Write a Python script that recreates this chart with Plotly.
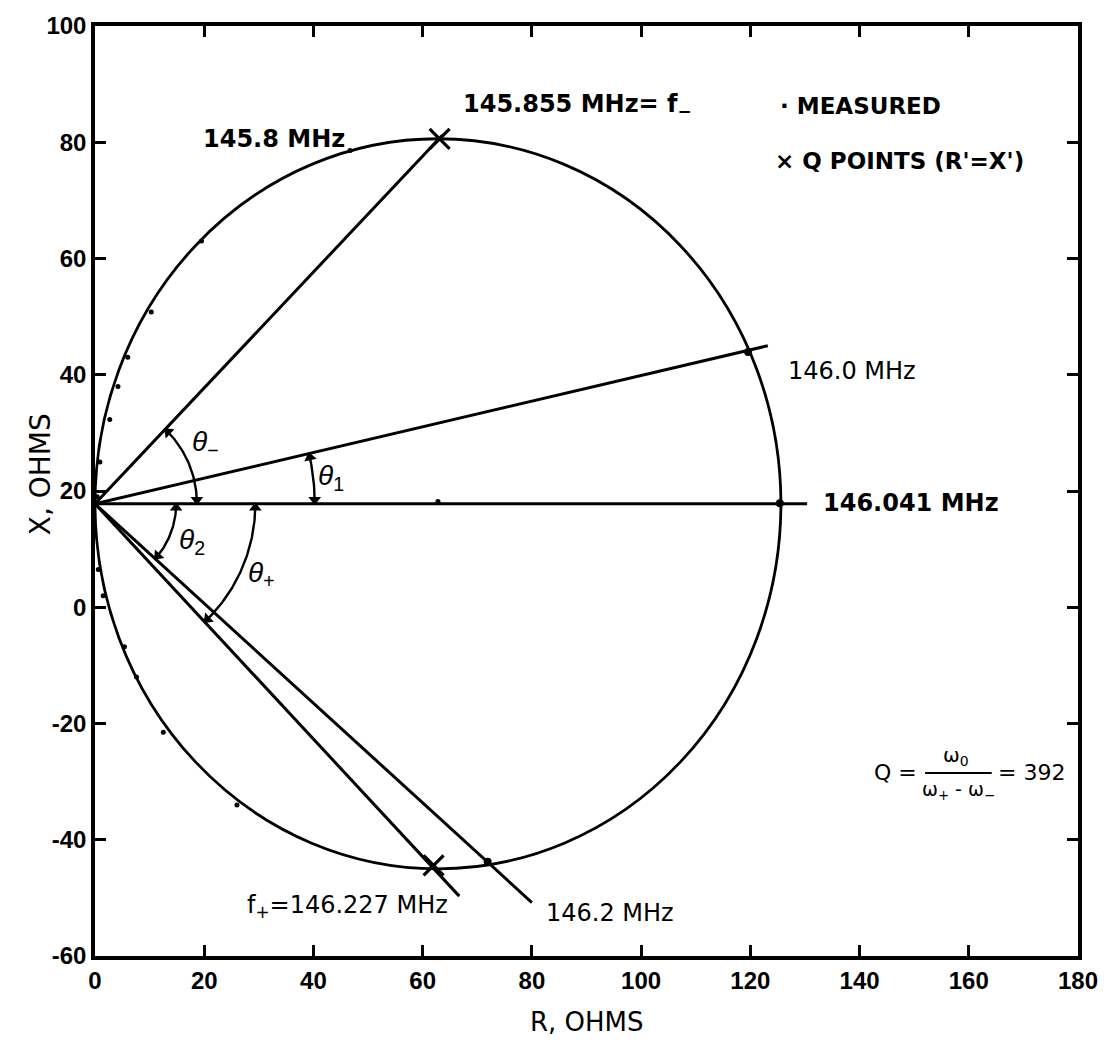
import numpy as np
import plotly.graph_objects as go

# ---- figure geometry -------------------------------------------------------
W, H = 1110, 1043
ML, MR, MT, MB = 95, 22, 25, 87
R_RANGE = [0, 180]
X_RANGE = [-60, 100]
SX = (W - ML - MR) / (R_RANGE[1] - R_RANGE[0])   # px per ohm (R)
SY = (H - MT - MB) / (X_RANGE[1] - X_RANGE[0])   # px per ohm (X)

TICK_FONT = "Liberation Sans, Arial, sans-serif"
TEXT_FONT = "DejaVu Sans, Verdana, sans-serif"

# ---- data -----------------------------------------------------------------
# tick marks and labels
r_ticks = [0, 20, 40, 60, 80, 100, 120, 140, 160, 180]
r_tick_labels = ["0", "20", "40", "60", "80", "100", "120", "140", "160", "180"]
x_ticks = [-60, -40, -20, 0, 20, 40, 60, 80, 100]
x_tick_labels = ["-60", "-40", "-20", "0", "20", "40", "60", "80", "100"]

# impedance circle (ohms)
circle_center_r = 62.8
circle_center_x = 17.8
circle_radius = 62.8

# common origin of the radial lines (detuned-short point)
origin_r = 0.0
origin_x = 17.8

# radial lines: frequency label and far end of each line
ray_names = ["145.855 MHz", "146.0 MHz", "146.041 MHz", "146.2 MHz", "146.227 MHz"]
ray_end_r = [63.6, 123.2, 130.4, 80.0, 66.7]
ray_end_x = [81.2, 45.0, 17.8, -50.8, -49.7]

# measured impedance points
measured_r = [46.7, 19.5, 10.3, 6.0, 4.2, 2.7, 0.9, 0.4, 0.6, 1.5, 5.4, 7.6, 12.5, 26.0, 62.8]
measured_x = [78.6, 63.0, 50.8, 43.0, 38.0, 32.3, 25.0, 19.0, 6.5, 2.0, -6.8, -12.0, -21.5, -34.0, 18.2]

# measured points where the labelled lines cross the circle
marked_r = [119.6, 125.4, 71.9]
marked_x = [43.9, 17.9, -43.8]

# half-power (Q) points, R' = X'
q_r = [63.1, 62.0]
q_x = [80.6, -44.4]

# angle arcs: label, index of the ray it ends on, radius in px
arc_labels = ["<i>θ</i><sub>−</sub>", "<i>θ</i><sub>1</sub>", "<i>θ</i><sub>2</sub>", "<i>θ</i><sub>+</sub>"]
arc_ray = [0, 1, 3, 4]
arc_radius_px = [103, 222, 82, 162]
arc_label_r = [20.3, 43.3, 17.8, 30.5]
arc_label_x = [28.2, 22.3, 11.3, 5.6]

fig = go.Figure()

# circle
fig.add_shape(type="circle", xref="x", yref="y",
              x0=circle_center_r - circle_radius, x1=circle_center_r + circle_radius,
              y0=circle_center_x - circle_radius, y1=circle_center_x + circle_radius,
              line=dict(color="black", width=2.8), layer="above")

# radial lines
for er, ex in zip(ray_end_r, ray_end_x):
    fig.add_trace(go.Scatter(x=[origin_r, er], y=[origin_x, ex], mode="lines",
                             line=dict(color="black", width=3), showlegend=False,
                             hoverinfo="skip"))

# angle arcs with arrowheads at both ends
for idx, rpx in zip(arc_ray, arc_radius_px):
    dx = (ray_end_r[idx] - origin_r) * SX
    dy = (ray_end_x[idx] - origin_x) * SY
    a_end = np.arctan2(dy, dx)
    a = np.linspace(0, a_end, 60)
    ar = origin_r + rpx * np.cos(a) / SX
    ax_ = origin_x + rpx * np.sin(a) / SY
    fig.add_trace(go.Scatter(x=ar, y=ax_, mode="lines",
                             line=dict(color="black", width=2.4),
                             showlegend=False, hoverinfo="skip"))
    s = np.sign(a_end)
    # direction of travel at each end (screen, y up) -> clockwise angle from up
    d_end = (-s * np.sin(a_end), s * np.cos(a_end))
    d_start = (0.0, -s)
    ang_end = np.degrees(np.arctan2(d_end[0], d_end[1]))
    ang_start = np.degrees(np.arctan2(d_start[0], d_start[1]))
    # pull the arrowheads back a little so the tips touch the lines
    back = 4.0
    a_tip_end = a_end - s * back / rpx
    a_tip_start = s * back / rpx
    tip_r = [origin_r + rpx * np.cos(a_tip_end) / SX, origin_r + rpx * np.cos(a_tip_start) / SX]
    tip_x = [origin_x + rpx * np.sin(a_tip_end) / SY, origin_x + rpx * np.sin(a_tip_start) / SY]
    fig.add_trace(go.Scatter(x=tip_r, y=tip_x, mode="markers",
                             marker=dict(symbol="triangle-up", size=11, color="black",
                                         angle=[ang_end, ang_start]),
                             showlegend=False, hoverinfo="skip"))

# measured points
fig.add_trace(go.Scatter(x=measured_r, y=measured_x, mode="markers",
                         marker=dict(color="black", size=5), showlegend=False))
fig.add_trace(go.Scatter(x=marked_r, y=marked_x, mode="markers",
                         marker=dict(color="black", size=8), showlegend=False))

# Q points
fig.add_trace(go.Scatter(x=q_r, y=q_x, mode="markers",
                         marker=dict(symbol="x-thin", size=20,
                                     line=dict(color="black", width=3.2)),
                         showlegend=False))

# ---- text -----------------------------------------------------------------
def label(x, y, text, size=24, bold=False, anchor="left", family=TEXT_FONT):
    if bold:
        text = "<b>" + text + "</b>"
    fig.add_annotation(x=x, y=y, xref="x", yref="y", text=text, showarrow=False,
                       xanchor=anchor, yanchor="middle",
                       font=dict(family=family, size=size, color="black"))

label(67.1, 86.3, ray_names[0] + "= f<sub>−</sub>", bold=True)
label(19.4, 80.6, "145.8 MHz", bold=True)
label(126.5, 40.7, ray_names[1])
label(132.9, 18.0, ray_names[2], bold=True)
label(82.3, -52.6, ray_names[3])
label(65.0, -51.4, "f<sub>+</sub>=" + ray_names[4], anchor="right")

label(125.0, 86.3, "· MEASURED", size=23, bold=True)
label(124.2, 76.8, "× Q POINTS (R'=X')", size=23, bold=True)

for t, xr, xx in zip(arc_labels, arc_label_r, arc_label_x):
    label(xr, xx, t, size=28, anchor="center", family=TICK_FONT)

# Q = w0 / (w+ - w-) = 392
label(142.3, -28.4, "Q =", size=22)
label(157.6, -25.6, "ω<sub>0</sub>", size=20, anchor="center")
label(158.1, -31.6, "ω<sub>+</sub> - ω<sub>−</sub>", size=19, anchor="center")
fig.add_shape(type="line", xref="x", yref="y", x0=152.0, x1=164.2, y0=-28.5, y1=-28.5,
              line=dict(color="black", width=2))
label(165.0, -28.4, "= 392", size=22)

# axis titles
fig.add_annotation(x=0.5, y=-0.071, xref="paper", yref="paper", text="R, OHMS",
                   showarrow=False, xanchor="center", yanchor="middle",
                   font=dict(family=TEXT_FONT, size=26, color="black"))
fig.add_annotation(x=-0.056, y=0.518, xref="paper", yref="paper", text="X, OHMS",
                   showarrow=False, textangle=-90, xanchor="center", yanchor="middle",
                   font=dict(family=TEXT_FONT, size=28, color="black"))

axis_common = dict(showgrid=False, zeroline=False, showline=True, linecolor="black",
                   linewidth=3.5, mirror="ticks", ticks="inside", ticklen=11,
                   tickwidth=2.5, tickcolor="black",
                   tickfont=dict(family=TICK_FONT, size=24, color="black", weight="bold"))

fig.update_xaxes(range=R_RANGE, tickvals=r_ticks, ticktext=r_tick_labels, **axis_common)
fig.update_yaxes(range=X_RANGE, tickvals=x_ticks, ticktext=x_tick_labels, **axis_common)

fig.update_layout(width=W, height=H, margin=dict(l=ML, r=MR, t=MT, b=MB),
                  plot_bgcolor="white", paper_bgcolor="white", showlegend=False)

fig.write_html("out.html")
